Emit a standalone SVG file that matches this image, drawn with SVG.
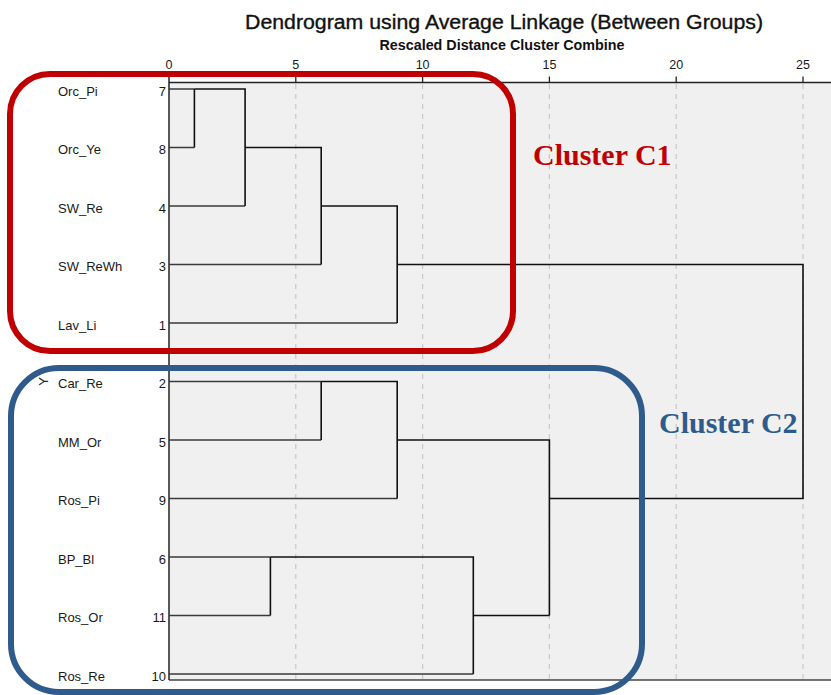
<svg xmlns="http://www.w3.org/2000/svg" width="831" height="695" viewBox="0 0 831 695">
<style>
.lbl{font-family:"Liberation Sans",Arial,sans-serif;font-size:13px;fill:#1a1a1a}
.num{font-family:"Liberation Sans",Arial,sans-serif;font-size:13px;fill:#1a1a1a;text-anchor:end}
.ax{font-family:"Liberation Sans",Arial,sans-serif;font-size:12.5px;fill:#1a1a1a;text-anchor:middle}
.grid{stroke:#c8c8c8;stroke-width:1.2;stroke-dasharray:5 5;fill:none}
.leaf{stroke:#3a3a3a;stroke-width:1.3;fill:none}
.link{stroke:#111;stroke-width:1.6;fill:none}
.clus{font-family:"Liberation Serif","Times New Roman",serif;font-weight:bold;font-size:30px}
</style>
<rect x="0" y="0" width="831" height="695" fill="#ffffff"/>
<g id="title">
<text x="504" y="29" text-anchor="middle" font-family="Liberation Sans, Arial, sans-serif" font-size="20" fill="#111" stroke="#111" stroke-width="0.35" textLength="518" lengthAdjust="spacingAndGlyphs">Dendrogram using Average Linkage (Between Groups)</text>
<text x="502" y="50" text-anchor="middle" font-family="Liberation Sans, Arial, sans-serif" font-size="14" font-weight="bold" fill="#111" textLength="245" lengthAdjust="spacingAndGlyphs">Rescaled Distance Cluster Combine</text>
</g>
<g id="plot">
<rect x="169" y="82.5" width="662" height="597.5" fill="#f0f0f0"/>
<line class="grid" x1="295.8" y1="84" x2="295.8" y2="679"/>
<line class="grid" x1="422.6" y1="84" x2="422.6" y2="679"/>
<line class="grid" x1="549.4" y1="84" x2="549.4" y2="679"/>
<line class="grid" x1="676.2" y1="84" x2="676.2" y2="679"/>
<line class="grid" x1="803" y1="84" x2="803" y2="679"/>
<line x1="169" y1="82.5" x2="831" y2="82.5" stroke="#222" stroke-width="1.5"/>
<line x1="169" y1="680" x2="831" y2="680" stroke="#444" stroke-width="1.3"/>
<line x1="169" y1="76" x2="169" y2="680" stroke="#222" stroke-width="1.5"/>
<g stroke="#222" stroke-width="1.3">
<line x1="295.8" y1="76.5" x2="295.8" y2="82.5"/>
<line x1="422.6" y1="76.5" x2="422.6" y2="82.5"/>
<line x1="549.4" y1="76.5" x2="549.4" y2="82.5"/>
<line x1="676.2" y1="76.5" x2="676.2" y2="82.5"/>
<line x1="803" y1="76.5" x2="803" y2="82.5"/>
</g>
<text class="ax" x="169" y="69">0</text>
<text class="ax" x="295.8" y="69">5</text>
<text class="ax" x="422.6" y="69">10</text>
<text class="ax" x="549.4" y="69">15</text>
<text class="ax" x="676.2" y="69">20</text>
<text class="ax" x="803" y="69">25</text>
<text x="45" y="381.5" font-family="Liberation Sans, Arial, sans-serif" font-size="13" fill="#222" text-anchor="middle" dominant-baseline="middle" transform="rotate(-90 45 381.5)">Y</text>
</g>
<g id="connectors">
<path class="leaf" d="M169 89H194.4M169 147.5H194.4M169 206H245.1M169 264.5H321.2M169 323H397.2M169 381.5H321.2M169 440H321.2M169 498.5H397.2M169 557H270.4M169 615.5H270.4M169 674H473.3"/>
<path class="link" d="M194.4 89V147.5M194.4 89H245.1V206M245.1 147.5H321.2V264.5M321.2 206H397.2V323M397.2 264.5H803V498.5H549.4"/>
<path class="link" d="M321.2 381.5V440M321.2 381.5H397.2V498.5M397.2 440H549.4V615.5M270.4 557V615.5M270.4 557H473.3V674M473.3 615.5H549.4"/>
</g>
<g id="leaf-7"><text class="lbl" x="58" y="95.5">Orc_Pi</text><text class="num" x="166" y="95.5">7</text></g>
<g id="leaf-8"><text class="lbl" x="58" y="154">Orc_Ye</text><text class="num" x="166" y="154">8</text></g>
<g id="leaf-4"><text class="lbl" x="58" y="212.5">SW_Re</text><text class="num" x="166" y="212.5">4</text></g>
<g id="leaf-3"><text class="lbl" x="58" y="271">SW_ReWh</text><text class="num" x="166" y="271">3</text></g>
<g id="leaf-1"><text class="lbl" x="58" y="329.5">Lav_Li</text><text class="num" x="166" y="329.5">1</text></g>
<g id="leaf-2"><text class="lbl" x="58" y="388">Car_Re</text><text class="num" x="166" y="388">2</text></g>
<g id="leaf-5"><text class="lbl" x="58" y="446.5">MM_Or</text><text class="num" x="166" y="446.5">5</text></g>
<g id="leaf-9"><text class="lbl" x="58" y="505">Ros_Pi</text><text class="num" x="166" y="505">9</text></g>
<g id="leaf-6"><text class="lbl" x="58" y="563.5">BP_Bl</text><text class="num" x="166" y="563.5">6</text></g>
<g id="leaf-11"><text class="lbl" x="58" y="622">Ros_Or</text><text class="num" x="166" y="622">11</text></g>
<g id="leaf-10"><text class="lbl" x="58" y="680.5">Ros_Re</text><text class="num" x="166" y="680.5">10</text></g>
<g id="cluster-c1">
<rect x="10" y="74" width="503" height="277" rx="40" ry="40" fill="none" stroke="#c00000" stroke-width="6"/>
<text class="clus" x="533" y="165" fill="#c00000">Cluster C1</text>
</g>
<g id="cluster-c2">
<rect x="11" y="368" width="631" height="324" rx="48" ry="48" fill="none" stroke="#2f5b8c" stroke-width="6"/>
<text class="clus" x="659" y="433" fill="#2f5b8c">Cluster C2</text>
</g>
</svg>
